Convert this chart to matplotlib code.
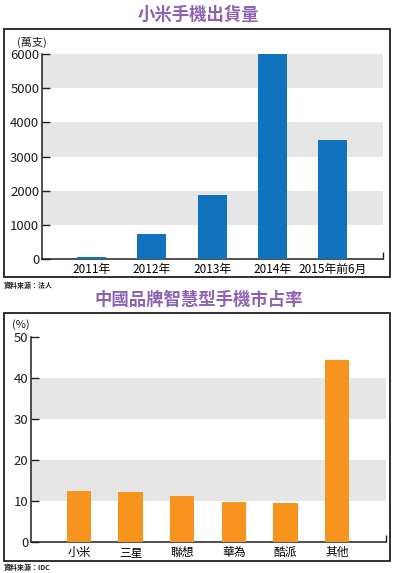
import numpy as np
import matplotlib.pyplot as plt
from matplotlib.patches import Rectangle

plt.rcParams['font.family'] = ['Noto Sans CJK TC', 'DejaVu Sans']

# 小米手機出貨量 (萬支)
years = ['2011年', '2012年', '2013年', '2014年', '2015年前6月']
shipments = [50, 719, 1870, 6000, 3470]

# 中國品牌智慧型手機市占率 (%)
brands = ['小米', '三星', '聯想', '華為', '酷派', '其他']
shares = [12.5, 12.2, 11.3, 9.8, 9.6, 44.3]

W, H = 397, 573
fig = plt.figure(figsize=(W / 100, H / 100), dpi=100)

def px_box(x0, y0, x1, y1):
    # pixel box (top-left origin) -> figure fraction [l, b, w, h]
    return [x0 / W, 1 - y1 / H, (x1 - x0) / W, (y1 - y0) / H]

def frame(x0, y0, x1, y1):
    l, b, w, h = px_box(x0, y0, x1, y1)
    fig.patches.append(Rectangle((l, b), w, h, transform=fig.transFigure,
                                 fill=False, edgecolor='#231f20', linewidth=1.3))

def style_axes(ax, bands, ymax):
    for lo, hi in bands:
        ax.axhspan(lo, hi, color='#e6e6e7', zorder=0, linewidth=0)
    for s in ['top', 'right']:
        ax.spines[s].set_visible(False)
    for s in ['left', 'bottom']:
        ax.spines[s].set_color('#231f20')
        ax.spines[s].set_linewidth(1.1)
    ax.set_ylim(0, ymax)
    ax.tick_params(axis='y', direction='in', length=6, width=1, colors='#231f20',
                   labelsize=9.5, pad=2)
    ax.tick_params(axis='x', length=0, labelsize=8.5, pad=3)
    # small upward tick at the right end of the baseline
    ax.set_xticks([ax.get_xlim()[1]], minor=True)
    ax.tick_params(axis='x', which='minor', direction='in', length=5, width=1,
                   colors='#231f20')

title_color = '#8d62b3'

# ---------- 上圖 ----------
frame(4, 29, 390, 277)
fig.text(0.5, 1 - 15 / H, '小米手機出貨量', ha='center', va='center',
         fontsize=12.5, fontweight='bold', color=title_color)
ax1 = fig.add_axes(px_box(42, 54, 383, 259))
x1 = np.arange(len(years))
ax1.bar(x1, shipments, width=0.48, color='#1172bd', zorder=3)
ax1.set_xlim(-0.82, 4.83)
style_axes(ax1, [(1000, 2000), (3000, 4000), (5000, 6000)], 6000)
ax1.set_yticks(range(0, 6001, 1000))
ax1.set_xticks(x1)
ax1.set_xticklabels(years)
fig.text(17 / W, 1 - 42 / H, '(萬支)', ha='left', va='center', fontsize=8, color='#231f20')
fig.text(4 / W, 1 - 285 / H, '資料來源：法人', ha='left', va='center', fontsize=5,
         fontweight='bold', color='#231f20')

# ---------- 下圖 ----------
frame(4, 313, 390, 561)
fig.text(0.5, 1 - 300 / H, '中國品牌智慧型手機市占率', ha='center', va='center',
         fontsize=12.5, fontweight='bold', color=title_color)
ax2 = fig.add_axes(px_box(31, 337, 386, 542))
x2 = np.arange(len(brands))
ax2.bar(x2, shares, width=0.47, color='#f7941e', zorder=3)
ax2.set_xlim(-0.93, 5.95)
style_axes(ax2, [(10, 20), (30, 40)], 50)
ax2.set_yticks(range(0, 51, 10))
ax2.set_xticks(x2)
ax2.set_xticklabels(brands)
fig.text(12 / W, 1 - 325 / H, '(%)', ha='left', va='center', fontsize=8, color='#231f20')
fig.text(4 / W, 1 - 567 / H, '資料來源：IDC', ha='left', va='center', fontsize=5,
         fontweight='bold', color='#231f20')

fig.savefig('out.png', dpi=100)
